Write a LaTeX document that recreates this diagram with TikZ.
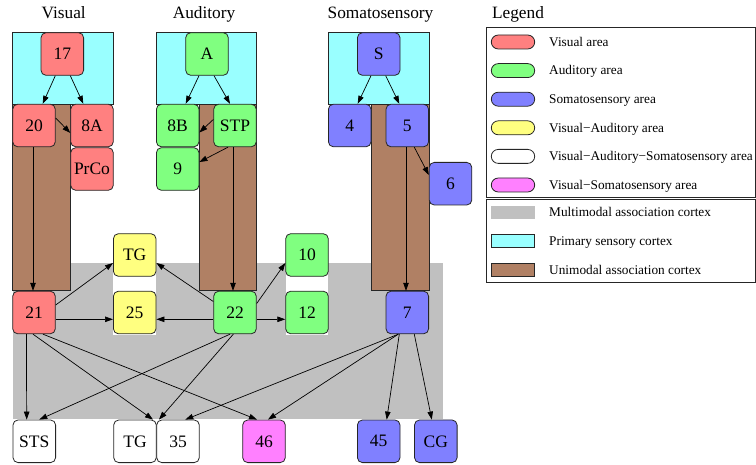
\documentclass[tikz,border=0pt]{standalone}
\usepackage{fontspec}
\setmainfont{Liberation Serif}
\usetikzlibrary{arrows.meta}
\definecolor{vred}{HTML}{FF8080}
\definecolor{vgreen}{HTML}{80FF80}
\definecolor{vblue}{HTML}{8080FF}
\definecolor{vyellow}{HTML}{FFFF80}
\definecolor{vmag}{HTML}{FF80FF}
\definecolor{pcyan}{HTML}{99FFFF}
\definecolor{ubrown}{HTML}{B08064}
\definecolor{mgray}{HTML}{C0C0C0}
\definecolor{bord}{HTML}{262626}
\tikzset{
  area/.style={draw=bord, line width=0.8pt, rounded corners=5pt, minimum width=42.6pt,
    minimum height=42.6pt, inner sep=0pt, font=\fontsize{17.5}{20}\selectfont},
  arr/.style={-{Triangle[length=8pt,width=5.5pt]}, line width=0.7pt, draw=black},
  ttl/.style={anchor=base, inner sep=0pt, font=\fontsize{17.3}{20}\selectfont},
  legtext/.style={anchor=base west, inner sep=0pt, font=\fontsize{13.3}{15}\selectfont},
  swatch/.style={draw=bord, line width=0.8pt, rounded corners=7pt, minimum width=43.4pt,
    minimum height=14pt, inner sep=0pt},
  region/.style={minimum width=43.4pt, minimum height=13.5pt, inner sep=0pt},
  zone/.style={draw=bord, line width=0.8pt}
}
\begin{document}
\begin{tikzpicture}[x=1pt,y=-1pt]
\useasboundingbox (0,0) rectangle (756,465);
% background regions
\fill[mgray] (12.7,262.7) rectangle (443.3,419.5);
\fill[white] (113.3,262.7) rectangle (156,334.6);
\fill[white] (285.7,262.7) rectangle (328.3,334.6);
\filldraw[zone, fill=ubrown] (12.7,104.3) rectangle (70,290.7);
\filldraw[zone, fill=ubrown] (199.3,104.3) rectangle (256.7,290.7);
\filldraw[zone, fill=ubrown] (371.7,104.3) rectangle (429,290.7);
\filldraw[zone, fill=pcyan] (12.7,32.5) rectangle (113.3,104.3);
\filldraw[zone, fill=pcyan] (156.3,32.5) rectangle (256.7,104.3);
\filldraw[zone, fill=pcyan] (328.3,32.5) rectangle (429,104.3);
% titles
\node[ttl] (tvis) at (63.7,19) {Visual};
\node[ttl] (taud) at (204,19) {Auditory};
\node[ttl] (tsom) at (380.5,19) {Somatosensory};
\node[ttl] (tleg) at (518,19) {Legend};
% visual nodes
\node[area, fill=vred] (n17) at (62.3,54) {17};
\node[area, fill=vred] (n20) at (34,125.5) {20};
\node[area, fill=vred] (n8A) at (92,125.5) {8A};
\node[area, fill=vred] (nPrCo) at (92,169) {PrCo};
\node[area, fill=vred] (n21) at (34,312.5) {21};
% auditory nodes
\node[area, fill=vgreen] (nA) at (207,54) {A};
\node[area, fill=vgreen] (n8B) at (177.7,125.5) {8B};
\node[area, fill=vgreen] (nSTP) at (235,125.5) {STP};
\node[area, fill=vgreen] (n9) at (177.7,169) {9};
\node[area, fill=vgreen] (n22) at (235,312.5) {22};
\node[area, fill=vgreen] (n10) at (307,255) {10};
\node[area, fill=vgreen] (n12) at (307,312.5) {12};
% somatosensory nodes
\node[area, fill=vblue] (nS) at (378.7,54) {S};
\node[area, fill=vblue] (n4) at (349.7,125.5) {4};
\node[area, fill=vblue] (n5) at (407.3,125.5) {5};
\node[area, fill=vblue] (n6) at (450.5,183.7) {6};
\node[area, fill=vblue] (n7) at (407.3,312.5) {7};
% multimodal nodes
\node[area, fill=vyellow] (nTGy) at (134.7,255) {TG};
\node[area, fill=vyellow] (n25) at (134.7,312.5) {25};
\node[area, fill=white] (nSTS) at (34.3,441.3) {STS};
\node[area, fill=white] (nTGw) at (135,441.3) {TG};
\node[area, fill=white] (n35) at (178,441.3) {35};
\node[area, fill=vmag] (n46) at (264,441.3) {46};
\node[area, fill=vblue] (n45) at (378.7,441.3) {45};
\node[area, fill=vblue] (nCG) at (435.8,441.3) {CG};
% edges
\draw[arr] ([xshift=-7pt]n17.south) -- ([xshift=8.7pt]n20.north);
\draw[arr] ([xshift=8pt]n17.south) -- ([xshift=-8.7pt]n8A.north);
\draw[arr] ([yshift=7.5pt]n20.east) -- ([yshift=-7.5pt]n8A.west);
\draw[arr] ([xshift=-1pt]n20.south) -- ([xshift=-1pt]n21.north);
\draw[arr] ([xshift=-8pt]nA.south) -- ([xshift=8pt]n8B.north);
\draw[arr] ([xshift=7pt]nA.south) -- ([xshift=-5pt]nSTP.north);
\draw[arr] ([yshift=6pt]nSTP.west) -- ([yshift=-7pt]n8B.east);
\draw[arr] ([xshift=-7pt]nSTP.south) -- ([yshift=7pt]n9.east);
\draw[arr] ([xshift=-2pt]nSTP.south) -- ([xshift=-2pt]n22.north);
\draw[arr] ([xshift=-7.7pt]nS.south) -- ([xshift=8pt]n4.north);
\draw[arr] ([xshift=7pt]nS.south) -- ([xshift=-8pt]n5.north);
\draw[arr] ([xshift=7pt]n5.south) -- ([yshift=8.7pt]n6.west);
\draw[arr] ([xshift=-1.3pt]n5.south) -- ([xshift=-1.3pt]n7.north);
\draw[arr] ([yshift=7.5pt]n21.east) -- ([yshift=-8pt]nTGy.west);
\draw[arr] ([yshift=-6.8pt]n21.east) -- ([yshift=-6.8pt]n25.west);
\draw[arr] ([yshift=-6.8pt]n22.west) -- ([yshift=-6.8pt]n25.east);
\draw[arr] ([yshift=11pt]n22.west) -- ([yshift=-8pt]nTGy.east);
\draw[arr] ([yshift=9pt]n22.east) -- ([yshift=-8pt]n10.west);
\draw[arr] ([yshift=-6.8pt]n22.east) -- ([yshift=-6.8pt]n12.west);
\draw[arr] ([xshift=-7.6pt]n21.south) -- ([xshift=-7.6pt]nSTS.north);
\draw[arr] ([xshift=-1pt]n21.south) -- ([xshift=18pt]nTGw.north);
\draw[arr] ([xshift=9pt]n21.south) -- ([xshift=-7pt]n46.north);
\draw[arr] ([xshift=-5pt]n22.south) -- ([xshift=5pt]nSTS.north);
\draw[arr] ([xshift=-1.7pt]n22.south) -- ([xshift=-19pt]n35.north);
\draw[arr] ([xshift=-9pt]n7.south) -- ([xshift=7.3pt]n35.north);
\draw[arr] ([xshift=-9pt]n7.south) -- ([xshift=4pt]n46.north);
\draw[arr] ([xshift=-8pt]n7.south) -- ([xshift=8pt]n45.north);
\draw[arr] ([xshift=7pt]n7.south) -- ([xshift=-4pt]nCG.north);
% legend
\draw[zone] (486,27.3) rectangle (755.2,197.7);
\draw[zone] (486,199.3) rectangle (755.2,282);
\node[swatch, fill=vred] (lv) at (513,42) {};
\node[swatch, fill=vgreen] (la) at (513,70.6) {};
\node[swatch, fill=vblue] (ls) at (513,99.2) {};
\node[swatch, fill=vyellow] (lva) at (513,127.8) {};
\node[swatch, fill=white] (lvas) at (513,156.4) {};
\node[swatch, fill=vmag] (lvs) at (513,185) {};
\node[legtext] (tv) at (549,46.4) {Visual area};
\node[legtext] (ta) at (549,75) {Auditory area};
\node[legtext] (ts) at (549,103.6) {Somatosensory area};
\node[legtext] (tva) at (549,132.2) {Visual−Auditory area};
\node[legtext] (tvas) at (549,160.8) {Visual−Auditory−Somatosensory area};
\node[legtext] (tvs) at (549,189.4) {Visual−Somatosensory area};
\node[region, fill=mgray] (lm) at (513,212.5) {};
\node[region, zone, fill=pcyan] (lp) at (513,241) {};
\node[region, zone, fill=ubrown] (lu) at (513,270) {};
\node[legtext] (tm) at (549,217) {Multimodal association cortex};
\node[legtext] (tp) at (549,245.5) {Primary sensory cortex};
\node[legtext] (tu) at (549,274.5) {Unimodal association cortex};
\end{tikzpicture}
\end{document}
